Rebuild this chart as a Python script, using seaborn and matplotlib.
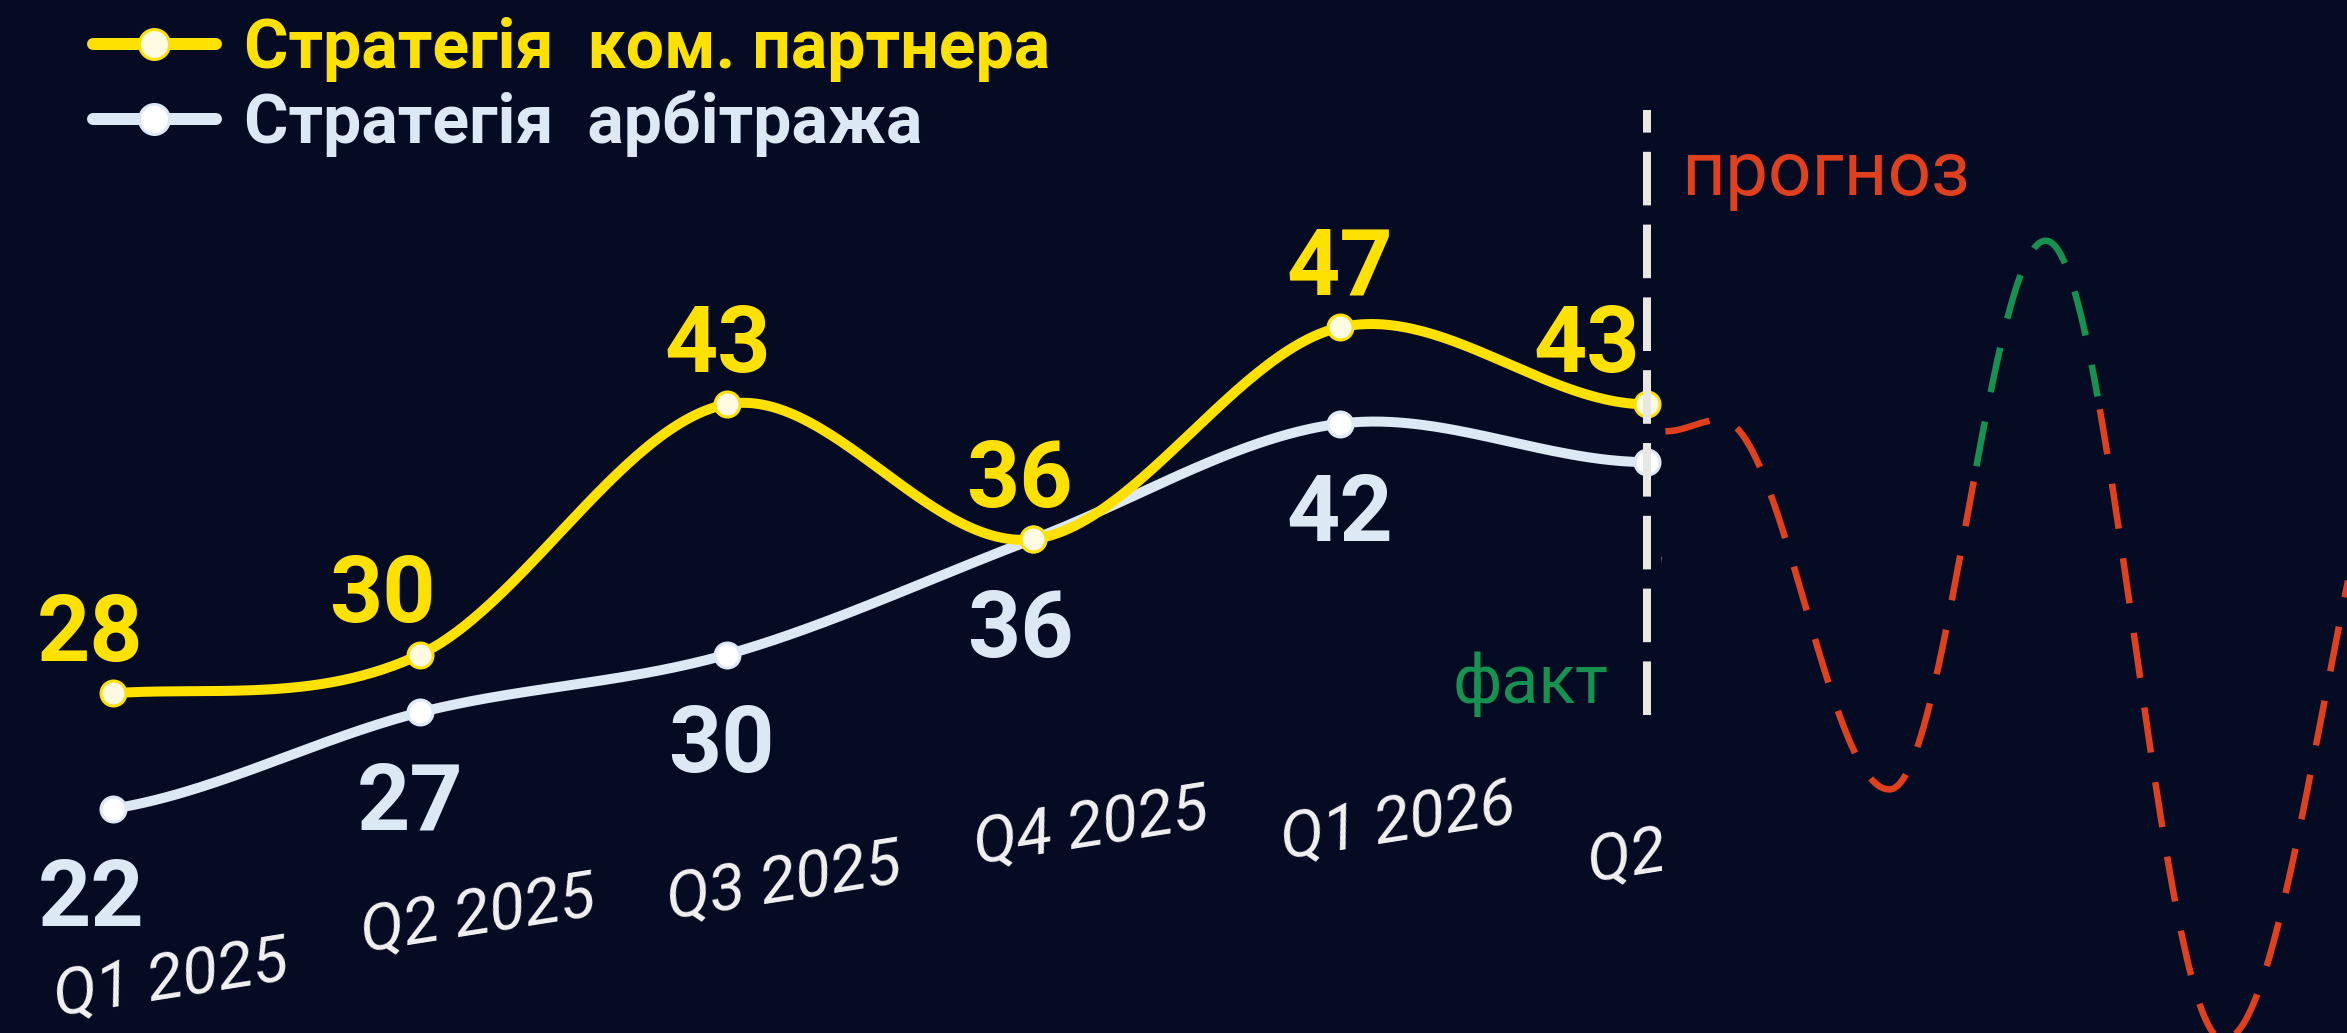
import numpy as np
import matplotlib
matplotlib.use("Agg")
import matplotlib.pyplot as plt
from matplotlib.lines import Line2D
from matplotlib.font_manager import FontProperties
from matplotlib.transforms import ScaledTranslation, blended_transform_factory
import seaborn as sns

# ---- data -------------------------------------------------------------
quarters = ["Q1 2025", "Q2 2025", "Q3 2025", "Q4 2025", "Q1 2026", "Q2 2026"]
partner = [28, 30, 43, 36, 47, 43]        # Стратегія ком. партнера
arbitrage = [22, 27, 30, 36, 42, 40]      # Стратегія арбітража
series_names = ["Стратегія  ком. партнера", "Стратегія  арбітража"]

# decorative forecast wave (quarter index, value)
forecast_x = [5.06, 5.24, 5.79, 6.30, 6.88, 7.53]
forecast_y = [41.6, 42.2, 23.0, 51.5, 10.0, 44.6]
green_span = (6.07, 6.47)

# ---- style ------------------------------------------------------------
BG = "#050b22"
YELLOW = "#ffe100"
PALE = "#dce8f4"
RED = "#e0401e"
GREEN = "#17914f"
CHALK = "#e8e8e2"
PT = 0.72  # px -> pt at dpi 100

sns.set_theme(style="dark", rc={"axes.facecolor": BG, "figure.facecolor": BG})
plt.rcParams["font.family"] = ["Roboto", "DejaVu Sans"]


def smooth(xs, ys, n=60):
    xs = np.asarray(xs, float)
    ys = np.asarray(ys, float)
    m = np.zeros_like(ys)
    m[1:-1] = (ys[2:] - ys[:-2]) / (xs[2:] - xs[:-2])
    m[0] = 0.5 * (ys[1] - ys[0]) / (xs[1] - xs[0])
    m[-1] = 0.0
    t = np.linspace(0, 1, n)
    h00 = 2 * t**3 - 3 * t**2 + 1
    h10 = t**3 - 2 * t**2 + t
    h01 = -2 * t**3 + 3 * t**2
    h11 = t**3 - t**2
    ox, oy = [], []
    for i in range(len(xs) - 1):
        h = xs[i + 1] - xs[i]
        ox.append(xs[i] + h * t)
        oy.append(h00 * ys[i] + h10 * h * m[i] + h01 * ys[i + 1] + h11 * h * m[i + 1])
    return np.concatenate(ox), np.concatenate(oy)


def wave(xs, ys, n=80):
    t = np.linspace(0, 1, n)
    ox, oy = [], []
    for i in range(len(xs) - 1):
        ox.append(xs[i] + (xs[i + 1] - xs[i]) * t)
        oy.append(ys[i] + (ys[i + 1] - ys[i]) * (1 - np.cos(np.pi * t)) / 2)
    return np.concatenate(ox), np.concatenate(oy)


W, H = 2347, 1033
SPLIT = 1662
fig = plt.figure(figsize=(W / 100, H / 100), dpi=100)
ax = fig.add_axes([0, 0, SPLIT / W, 1])
ax2 = fig.add_axes([SPLIT / W, 0, 1 - SPLIT / W, 1])

YLIM = (10.35, 64.0)
ax.set_ylim(*YLIM)
ax.set_xlim(-0.368, 5.049)
ax2.set_ylim(*YLIM)
ax2.set_xlim(5.049, 7.282)
for a in (ax, ax2):
    a.axis("off")

idx = np.arange(len(quarters))

# ---- main lines ---------------------------------------------------------
for vals, col, mfc, z in [(arbitrage, PALE, "#ffffff", 3), (partner, YELLOW, "#fffbe2", 5)]:
    sx, sy = smooth(idx, vals)
    sns.lineplot(x=sx, y=sy, ax=ax, color=col, lw=10 * PT, sort=False,
                 estimator=None, zorder=z, solid_capstyle="round")
    sns.scatterplot(x=idx, y=vals, ax=ax, s=(25 * PT) ** 2, color=mfc,
                    edgecolor=col, linewidth=3 * PT, zorder=z + 1)

# value labels
num_font = dict(family=["Roboto", "DejaVu Sans"], weight="bold", size=67)
partner_dx = [-23, -37, -9, -14, 0, -60]
arbitrage_dx = [-22, -10, -5, -13, 0, 65]
for vals, dxs, dy, col in [(partner, partner_dx, 58, YELLOW), (arbitrage, arbitrage_dx, -92, PALE)]:
    for i, (v, dx) in enumerate(zip(vals, dxs)):
        t = ax.annotate(str(v), (i, v), xytext=(dx * PT, dy * PT), textcoords="offset points",
                        ha="center", va="center", color=col, zorder=8, **num_font)
        t.set_clip_path(ax.patch)
        t.set_clip_on(True)

# x tick labels (hand placed along the bottom)
tick_lift = [53, 117, 150, 205, 210, 187]
base = blended_transform_factory(ax.transData, ax.transAxes)
for i, (lbl, lift) in enumerate(zip(quarters, tick_lift)):
    tr = base + ScaledTranslation(58 * PT / 72, lift * PT / 72, fig.dpi_scale_trans)
    ax.text(i, 0, lbl, transform=tr, ha="center", va="center", rotation=9,
            rotation_mode="anchor", color="#f2f2f2", fontsize=47, style="italic",
            family=["Roboto", "DejaVu Sans"], clip_on=True)

# fact / forecast divider
ax.axvline(idx[-1], ymin=1 - 715 / H, ymax=1 - 110 / H, color=CHALK, lw=8 * PT,
           dashes=(6.7, 2.4), zorder=10)
ax.text(1608 / SPLIT, 1 - 703 / H, "факт", transform=ax.transAxes, ha="right",
        va="baseline", color=GREEN, fontsize=49)
ax2.text((1681 - SPLIT) / (W - SPLIT), 1 - 195 / H, "прогноз", transform=ax2.transAxes,
         ha="left", va="baseline", color=RED, fontsize=55)

# forecast wave
fx, fy = wave(forecast_x, forecast_y)
g0, g1 = green_span
parts = [(fx <= g0, RED), ((fx >= g0) & (fx <= g1), GREEN), (fx >= g1, RED)]
for mask, col in parts:
    sns.lineplot(x=fx[mask], y=fy[mask], ax=ax2, color=col, lw=6.5 * PT, sort=False,
                 estimator=None, dashes=(7, 4.6))

# legend
handles = [
    Line2D([], [], color=YELLOW, lw=12 * PT, marker="o", markersize=30 * PT,
           markerfacecolor="#fffbe2", markeredgecolor=YELLOW, markeredgewidth=3 * PT),
    Line2D([], [], color=PALE, lw=12 * PT, marker="o", markersize=30 * PT,
           markerfacecolor="#ffffff", markeredgecolor=PALE, markeredgewidth=3 * PT),
]
ax.legend(handles, series_names, loc="upper left", bbox_to_anchor=(93 / SPLIT, 1 - 17 / H),
          frameon=False, prop=FontProperties(family="Roboto", weight="bold", size=49),
          labelcolor="linecolor", handlelength=1.8, handletextpad=0.42,
          labelspacing=0.12, borderpad=0, borderaxespad=0)

fig.savefig("out.png", dpi=100, facecolor=BG)
